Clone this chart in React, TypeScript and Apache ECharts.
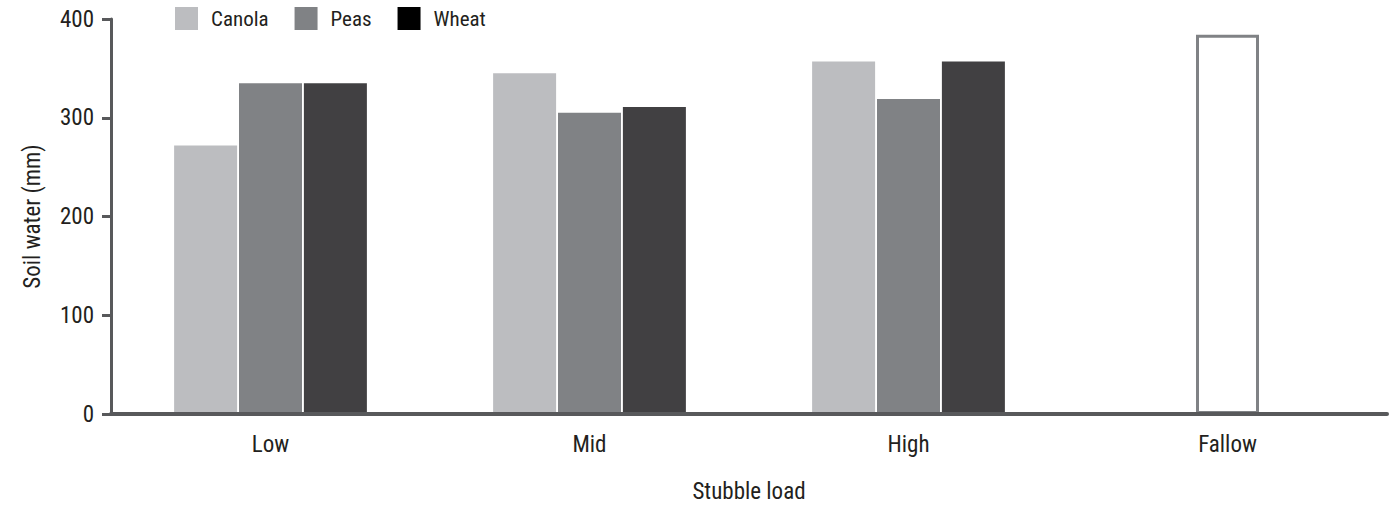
import React, { useEffect, useRef } from 'react';
import * as echarts from 'echarts';

const categories = ['Low', 'Mid', 'High', 'Fallow'];
const canola = [272, 345, 357, null];
const peas = [335, 305, 319, null];
const wheat = [335, 311, 357, null];
const fallow = [null, null, null, 384];

const FONT = '"Roboto Condensed", "Liberation Sans", sans-serif';
const TEXT = '#231f20';
const AXIS = '#58595b';

const App = () => {
    const chartRef = useRef<HTMLDivElement>(null);

    useEffect(() => {
        const myChart = echarts.init(chartRef.current, null, { renderer: 'svg' });

        myChart.setOption({
            animation: false,
            textStyle: { fontFamily: FONT, color: TEXT },
            grid: { left: 111, right: 10, top: 19, bottom: 95, outerBoundsMode: 'none' },
            legend: {
                left: 170,
                top: 2,
                itemWidth: 23,
                itemHeight: 23,
                itemGap: 26,
                icon: 'rect',
                textStyle: { fontFamily: FONT, fontSize: 21, color: TEXT, padding: [0, 0, 0, 8] },
                data: [
                    { name: 'Canola' },
                    { name: 'Peas' },
                    { name: 'Wheat', itemStyle: { color: '#000000' } },
                ],
            },
            xAxis: {
                type: 'category',
                data: categories,
                z: 3,
                name: 'Stubble load',
                nameLocation: 'middle',
                nameGap: 66,
                nameTextStyle: { fontFamily: FONT, fontSize: 23, color: TEXT },
                axisLine: { lineStyle: { color: AXIS, width: 4 } },
                axisTick: { alignWithLabel: true, length: 9, lineStyle: { color: AXIS, width: 3 } },
                axisLabel: { fontFamily: FONT, fontSize: 23, color: TEXT, margin: 19 },
            },
            yAxis: {
                type: 'value',
                min: 0,
                max: 400,
                interval: 100,
                name: 'Soil water (mm)',
                nameLocation: 'middle',
                nameGap: 67,
                nameTextStyle: { fontFamily: FONT, fontSize: 23, color: TEXT },
                axisLine: { show: true, lineStyle: { color: AXIS, width: 3 } },
                axisTick: { show: true, length: 9, lineStyle: { color: AXIS, width: 3 } },
                axisLabel: { fontFamily: FONT, fontSize: 23, color: TEXT, margin: 17 },
                splitLine: { show: false },
            },
            series: [
                {
                    name: 'Canola',
                    type: 'bar',
                    data: canola,
                    barWidth: 63,
                    barGap: '3%',
                    itemStyle: { color: '#bcbdc0' },
                },
                {
                    name: 'Peas',
                    type: 'bar',
                    stack: 'centre',
                    data: peas,
                    barWidth: 63,
                    itemStyle: { color: '#808285' },
                },
                {
                    name: 'Wheat',
                    type: 'bar',
                    data: wheat,
                    barWidth: 63,
                    itemStyle: { color: '#414042' },
                },
                {
                    name: 'Fallow',
                    type: 'bar',
                    stack: 'centre',
                    data: fallow,
                    barWidth: 63,
                    itemStyle: { color: '#ffffff', borderColor: '#808285', borderWidth: 3 },
                },
            ],
        });

        return () => {
            myChart.dispose();
        };
    }, []);

    return (
        <div
            ref={chartRef}
            style={{ position: 'fixed', left: 0, top: 0, width: '1397px', height: '509px', background: '#fff' }}
        />
    );
};

export default App;
